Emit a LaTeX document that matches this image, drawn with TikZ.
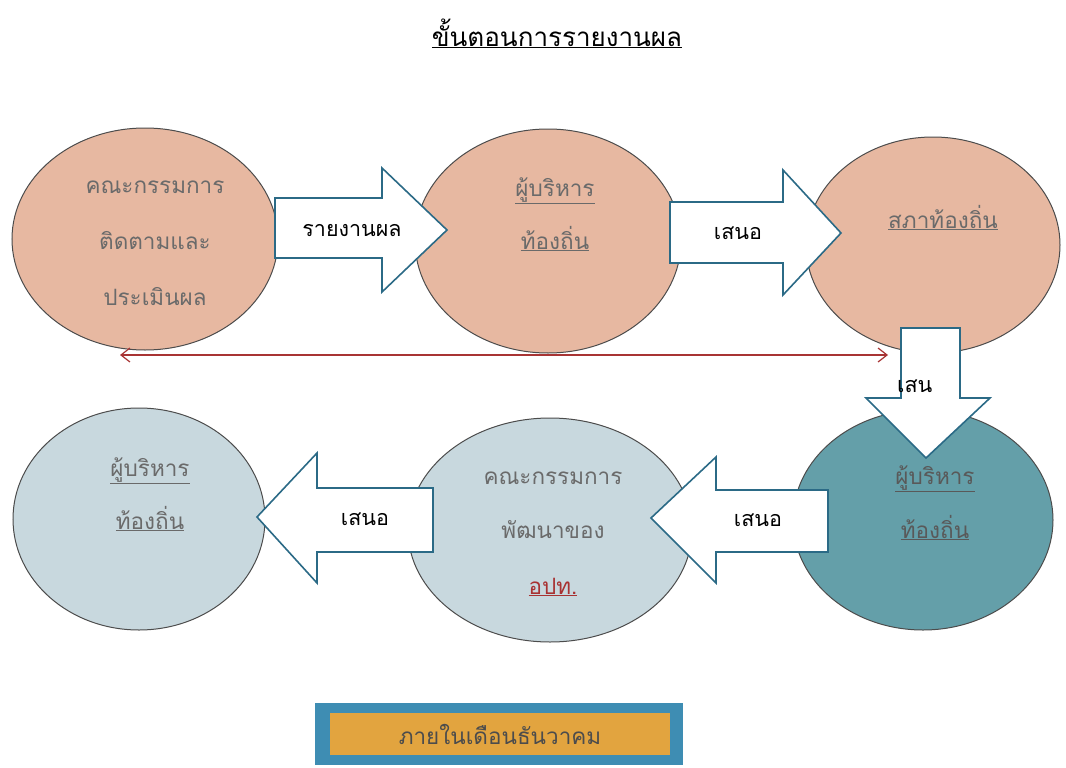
\documentclass[tikz,border=0pt]{standalone}
\usepackage{fontspec}
\newfontfamily\thai[Script=Thai]{Loma}
\usetikzlibrary{shapes.geometric,arrows.meta}
\definecolor{peach}{HTML}{E7B8A1}
\definecolor{paleblue}{HTML}{C8D8DE}
\definecolor{tealc}{HTML}{649FA9}
\definecolor{arrowline}{HTML}{2B6A86}
\definecolor{txtgrey}{HTML}{6A6A6A}
\definecolor{redline}{HTML}{A83434}
\definecolor{boxblue}{HTML}{3E8DB3}
\definecolor{boxorange}{HTML}{E2A43F}
\definecolor{darkred}{HTML}{A83232}
\begin{document}
\begin{tikzpicture}[x=1pt,y=-1pt,
  bubble/.style={ellipse, draw=gray!60!black, line width=1pt, inner sep=0},
  lbl/.style={font=\thai\fontsize{22.5}{26}\selectfont, text=txtgrey, inner sep=0, anchor=mid},
  blockarrow/.style={draw=arrowline, fill=white, line width=1.6pt, line join=miter},
  atext/.style={font=\thai\fontsize{21.5}{25}\selectfont, inner sep=0, anchor=mid}]
\useasboundingbox[fill=white] (0,0) rectangle (1066,768);

% title
\node[font=\thai\fontsize{26}{30}\selectfont, anchor=mid, inner sep=0] (title) at (557,44) {\underline{ขั้นตอนการรายงานผล}};

% ellipses
\node[bubble, fill=peach, minimum width=266pt, minimum height=222pt] (e1) at (145,239) {};
\node[bubble, fill=peach, minimum width=266pt, minimum height=224pt] (e2) at (548,241) {};
\node[bubble, fill=peach, minimum width=254pt, minimum height=216pt] (e3) at (933,245) {};
\node[bubble, fill=paleblue, minimum width=252pt, minimum height=222pt] (e4) at (139,519) {};
\node[bubble, fill=paleblue, minimum width=284pt, minimum height=224pt] (e5) at (550,530) {};
\node[bubble, fill=tealc, minimum width=260pt, minimum height=220pt] (e6) at (923,520) {};

% ellipse labels
\node[lbl] (l1a) at (155,191) {คณะกรรมการ};
\node[lbl] (l1b) at (155,247) {ติดตามและ};
\node[lbl] (l1c) at (155,303) {ประเมินผล};
\node[lbl] (l2a) at (555,194) {\underline{ผู้บริหาร}};
\node[lbl] (l2b) at (555,247) {\underline{ท้องถิ่น}};
\node[lbl] (l3a) at (943,226) {\underline{สภาท้องถิ่น}};
\node[lbl] (l4a) at (150,474) {\underline{ผู้บริหาร}};
\node[lbl] (l4b) at (150,527) {\underline{ท้องถิ่น}};
\node[lbl] (l5a) at (553,482) {คณะกรรมการ};
\node[lbl] (l5b) at (553,536) {พัฒนาของ};
\node[lbl, text=darkred] (l5c) at (553,592) {\underline{อปท.}};
\node[lbl, text=black!65] (l6a) at (935,482) {\underline{ผู้บริหาร}};
\node[lbl, text=black!65] (l6b) at (935,536) {\underline{ท้องถิ่น}};

% block arrows
\draw[blockarrow] (275,198) -- (382,198) -- (382,168) -- (447,230) -- (382,292) -- (382,258) -- (275,258) -- cycle;
\node[atext] (a1) at (352,234) {รายงานผล};
\draw[blockarrow] (670,202) -- (783,202) -- (783,170) -- (841,233) -- (783,295) -- (783,263) -- (670,263) -- cycle;
\node[atext] (a2) at (738,237) {เสนอ};
\draw[blockarrow] (433,488) -- (317,488) -- (317,453) -- (257,517) -- (317,583) -- (317,552) -- (433,552) -- cycle;
\node[atext] (a4) at (365,523) {เสนอ};
\draw[blockarrow] (828,490) -- (716,490) -- (716,457) -- (651,518) -- (716,583) -- (716,552) -- (828,552) -- cycle;
\node[atext] (a5) at (758,524) {เสนอ};

% red double arrow
\coordinate (rl) at (120,355);
\coordinate (rr) at (888,355);
\draw[redline, line width=1.2pt, {Straight Barb[length=9pt,width=14pt]}-{Straight Barb[length=9pt,width=14pt]}] (rl) -- (rr);

% down arrow
\draw[blockarrow] (901,328) -- (960,328) -- (960,398) -- (990,398) -- (926,458) -- (866,398) -- (901,398) -- cycle;
\node[atext, anchor=mid west] (a3) at (897,390) {เสน};

% bottom box
\node[fill=boxblue, minimum width=368pt, minimum height=62pt, inner sep=0] (boxo) at (499,734) {};
\node[fill=boxorange, minimum width=340pt, minimum height=42pt, inner sep=0, font=\thai\fontsize{22.5}{26}\selectfont, text=black!70] (boxi) at (500,734) {ภายในเดือนธันวาคม};
\end{tikzpicture}
\end{document}
